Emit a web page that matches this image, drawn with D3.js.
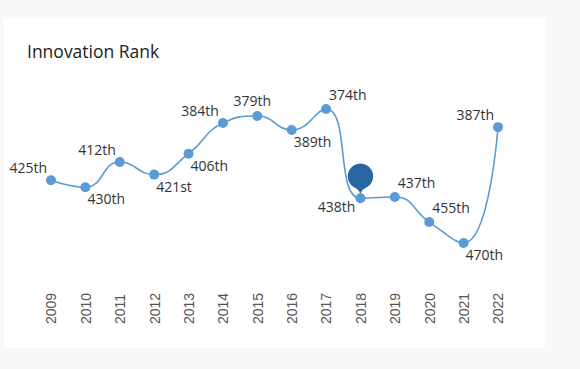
<!DOCTYPE html>
<html>
<head>
<meta charset="utf-8">
<script src="https://cdn.jsdelivr.net/npm/d3@7"></script>
<style>
  html, body { margin: 0; padding: 0; background: #f8f8f8; }
  svg { display: block; }
</style>
</head>
<body>
<div id="chart"></div>
<script>
// data
const years = ["2009", "2010", "2011", "2012", "2013", "2014", "2015", "2016", "2017", "2018", "2019", "2020", "2021", "2022"];
const ranks = [425, 430, 412, 421, 406, 384, 379, 389, 374, 438, 437, 455, 470, 387];
const rankLabels = ["425th", "430th", "412th", "421st", "406th", "384th", "379th", "389th", "374th", "438th", "437th", "455th", "470th", "387th"];
const highlightYear = "2018";

// where each value label sits around its point
const labelSide = ["tl", "br", "tl", "br", "br", "tl", "t", "br", "tr", "bl", "tr", "tr", "br", "tl"];

const width = 580, height = 369;

const svg = d3.select("#chart").append("svg")
    .attr("width", width)
    .attr("height", height);

// card
svg.append("rect")
    .attr("x", 4).attr("y", 18)
    .attr("width", 541).attr("height", 330)
    .attr("fill", "#fff");

svg.append("text")
    .attr("x", 27).attr("y", 58)
    .attr("font-family", "'Open Sans', sans-serif")
    .attr("font-size", 17.5)
    .attr("fill", "#222")
    .text("Innovation Rank");

const x = d3.scalePoint().domain(years).range([51, 498]);
const y = d3.scaleLinear().domain([374, 470]).range([109, 243]);

const pts = years.map((yr, i) => [x(yr), y(ranks[i])]);

// echarts-like smoothing: bezier with control points clamped to neighbours
function smoothLine(points, smooth) {
    const n = points.length;
    const cin = [], cout = [];
    for (let i = 0; i < n; i++) {
        const [px, py] = points[i];
        if (i === 0 || i === n - 1) {
            cin.push([px, py]); cout.push([px, py]);
            continue;
        }
        const [ax, ay] = points[i - 1];
        const [bx, by] = points[i + 1];
        const l0 = Math.hypot(px - ax, py - ay);
        const l1 = Math.hypot(bx - px, by - py);
        const r = l1 / (l0 + l1);
        let nx = px + (bx - ax) * smooth * r;
        let ny = py + (by - ay) * smooth * r;
        nx = Math.max(Math.min(nx, Math.max(bx, px)), Math.min(bx, px));
        ny = Math.max(Math.min(ny, Math.max(by, py)), Math.min(by, py));
        let vx = nx - px, vy = ny - py;
        let cx = px - vx * l0 / l1, cy = py - vy * l0 / l1;
        cx = Math.max(Math.min(cx, Math.max(ax, px)), Math.min(ax, px));
        cy = Math.max(Math.min(cy, Math.max(ay, py)), Math.min(ay, py));
        vx = px - cx; vy = py - cy;
        nx = px + vx * l1 / l0; ny = py + vy * l1 / l0;
        cin.push([cx, cy]); cout.push([nx, ny]);
    }
    const p = d3.path();
    p.moveTo(points[0][0], points[0][1]);
    for (let i = 1; i < n; i++) {
        p.bezierCurveTo(cout[i - 1][0], cout[i - 1][1], cin[i][0], cin[i][1], points[i][0], points[i][1]);
    }
    return p.toString();
}

svg.append("path")
    .attr("d", smoothLine(pts, 0.5))
    .attr("fill", "none")
    .attr("stroke", "#5b9bd5")
    .attr("stroke-width", 1.6);

// pin marker over the highlighted point (under the dots)
const hi = years.indexOf(highlightYear);
function pinPath(tx, ty, w, h) {
    const r = w / 2;
    const dyc = r * r / (h - r);
    const cy = ty - h + r + dyc;
    const ang = Math.asin(dyc / r);
    const dxc = Math.cos(ang) * r;
    const tanX = Math.sin(ang), tanY = Math.cos(ang);
    const cp1 = r * 0.6, cp2 = r * 0.7;
    const p = d3.path();
    p.moveTo(tx - dxc, cy + dyc);
    p.arc(tx, cy, r, Math.PI - ang, Math.PI * 2 + ang);
    p.bezierCurveTo(tx + dxc - tanX * cp1, cy + dyc + tanY * cp1, tx, ty - cp2, tx, ty);
    p.bezierCurveTo(tx, ty - cp2, tx - dxc + tanX * cp1, cy + dyc + tanY * cp1, tx - dxc, cy + dyc);
    p.closePath();
    return p.toString();
}

svg.append("path")
    .attr("d", pinPath(x(years[hi]), y(ranks[hi]) - 2, 25.5, 39))
    .attr("fill", "#2967a4");

svg.append("g")
    .selectAll("circle")
    .data(years)
    .join("circle")
    .attr("cx", d => x(d))
    .attr("cy", (d, i) => y(ranks[i]))
    .attr("r", 5)
    .attr("fill", "#5b9bd5");

// value labels
const side = {
    tl: { anchor: "end", dx: -4, dy: -7 },
    tr: { anchor: "start", dx: 3, dy: -9 },
    t: { anchor: "middle", dx: -5, dy: -10 },
    br: { anchor: "start", dx: 2, dy: 17 },
    bl: { anchor: "end", dx: -5, dy: 14 }
};

svg.append("g")
    .attr("font-family", "'Open Sans', sans-serif")
    .attr("font-size", 14)
    .attr("fill", "#333")
    .selectAll("text")
    .data(years)
    .join("text")
    .attr("x", (d, i) => x(d) + side[labelSide[i]].dx)
    .attr("y", (d, i) => y(ranks[i]) + side[labelSide[i]].dy)
    .attr("text-anchor", (d, i) => side[labelSide[i]].anchor)
    .text((d, i) => rankLabels[i]);

// x axis, rotated year labels, no line or ticks
const xAxis = svg.append("g")
    .attr("transform", "translate(0,324)")
    .call(d3.axisBottom(x).tickSize(0).tickPadding(0));
xAxis.select(".domain").remove();
xAxis.selectAll("text")
    .attr("font-family", "'Liberation Sans', Arial, sans-serif")
    .attr("font-size", 14)
    .attr("fill", "#555")
    .attr("transform", "rotate(-90)")
    .attr("text-anchor", "start")
    .attr("x", 0)
    .attr("y", 0)
    .attr("dy", "0.35em");
</script>
</body>
</html>
